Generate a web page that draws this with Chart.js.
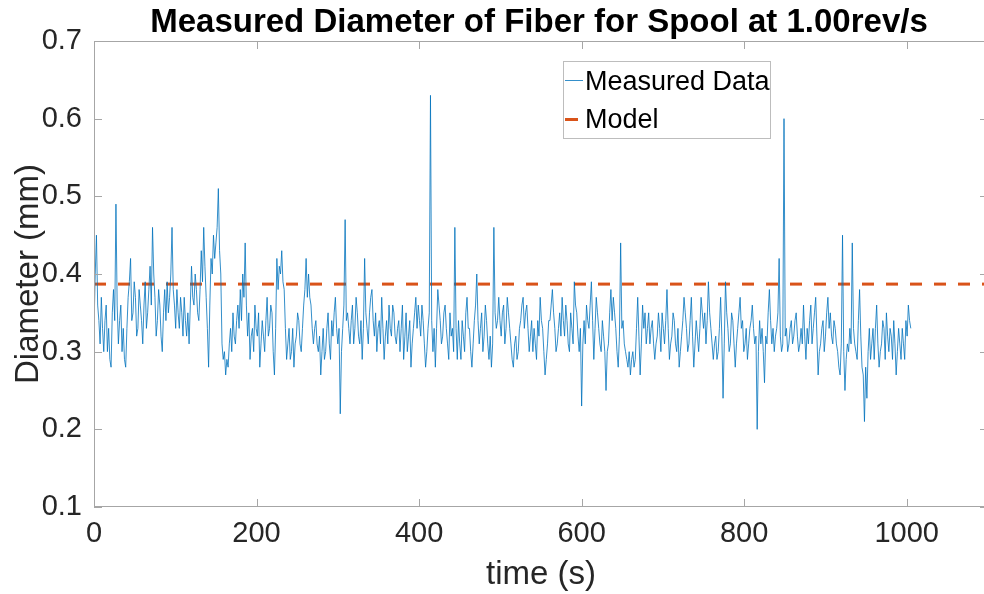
<!DOCTYPE html>
<html>
<head>
<meta charset="utf-8">
<title>Measured Diameter of Fiber</title>
<script src="https://cdn.jsdelivr.net/npm/chart.js@4.4.1/dist/chart.umd.min.js"></script>
<style>
    html, body { margin: 0; padding: 0; background: #fff; overflow: hidden; }
    #wrap { width: 1052px; height: 594px; }
</style>
</head>
<body>
<div id="wrap"><canvas id="fiberChart" width="1052" height="594"></canvas></div>
<script>
// Chart data
const SAMPLE_DT = 3; // seconds between readings in each list

// readings at t = 0, 3, 6, ... s
const diameterOnMark = [
    0.33, 0.45, 0.34, 0.37, 0.30, 0.36, 0.33, 0.28, 0.38, 0.49,
    0.31, 0.36, 0.33, 0.28, 0.37, 0.42, 0.35, 0.37, 0.33, 0.36,
    0.31, 0.39, 0.35, 0.41, 0.46, 0.37, 0.34, 0.36, 0.30, 0.38,
    0.39, 0.37, 0.46, 0.36, 0.38, 0.33, 0.35, 0.37, 0.32, 0.31,
    0.41, 0.36, 0.38, 0.34, 0.43, 0.46, 0.37, 0.28, 0.42, 0.45,
    0.44, 0.51, 0.40, 0.29, 0.27, 0.28, 0.33, 0.35, 0.31, 0.36,
    0.38, 0.40, 0.44, 0.32, 0.29, 0.33, 0.36, 0.32, 0.28, 0.34,
    0.30, 0.37, 0.33, 0.35, 0.27, 0.42, 0.41, 0.43, 0.38, 0.29,
    0.33, 0.30, 0.28, 0.32, 0.34, 0.30, 0.36, 0.42, 0.40, 0.36,
    0.31, 0.34, 0.30, 0.27, 0.33, 0.30, 0.35, 0.29, 0.32, 0.37,
    0.31, 0.22, 0.33, 0.47, 0.35, 0.31, 0.36, 0.33, 0.35, 0.31,
    0.29, 0.42, 0.33, 0.35, 0.38, 0.32, 0.30, 0.34, 0.37, 0.29,
    0.34, 0.36, 0.32, 0.35, 0.31, 0.34, 0.33, 0.29, 0.35, 0.32,
    0.28, 0.33, 0.37, 0.36, 0.32, 0.34, 0.28, 0.33, 0.63, 0.30,
    0.28, 0.38, 0.34, 0.32, 0.36, 0.31, 0.35, 0.33, 0.46, 0.29,
    0.31, 0.34, 0.30, 0.37, 0.33, 0.28, 0.34, 0.40, 0.31, 0.35,
    0.32, 0.34, 0.29, 0.28, 0.46, 0.33, 0.37, 0.32, 0.36, 0.33,
    0.35, 0.31, 0.28, 0.32, 0.30, 0.34, 0.37, 0.35, 0.33, 0.32,
    0.30, 0.31, 0.34, 0.37, 0.33, 0.27, 0.31, 0.34, 0.38, 0.33,
    0.31, 0.35, 0.37, 0.32, 0.34, 0.30, 0.33, 0.39, 0.35, 0.30,
    0.23, 0.34, 0.36, 0.33, 0.39, 0.29, 0.37, 0.33, 0.30, 0.32,
    0.25, 0.31, 0.38, 0.37, 0.33, 0.28, 0.44, 0.34, 0.30, 0.28,
    0.27, 0.30, 0.29, 0.37, 0.27, 0.36, 0.35, 0.33, 0.31, 0.34,
    0.29, 0.32, 0.33, 0.35, 0.31, 0.38, 0.29, 0.32, 0.34, 0.30,
    0.28, 0.32, 0.37, 0.33, 0.31, 0.37, 0.28, 0.34, 0.30, 0.37,
    0.33, 0.31, 0.39, 0.33, 0.29, 0.32, 0.30, 0.37, 0.24, 0.39,
    0.33, 0.31, 0.34, 0.28, 0.33, 0.37, 0.34, 0.31, 0.29, 0.33,
    0.36, 0.31, 0.20, 0.34, 0.33, 0.26, 0.31, 0.38, 0.31, 0.30,
    0.33, 0.42, 0.30, 0.60, 0.33, 0.31, 0.34, 0.32, 0.35, 0.30,
    0.33, 0.36, 0.29, 0.31, 0.36, 0.33, 0.37, 0.27, 0.31, 0.34,
    0.32, 0.37, 0.35, 0.31, 0.33, 0.30, 0.27, 0.45, 0.25, 0.31,
    0.33, 0.44, 0.31, 0.29, 0.38, 0.28, 0.21, 0.24, 0.33, 0.31,
    0.29, 0.36, 0.28, 0.31, 0.33, 0.35, 0.30, 0.32, 0.34, 0.27,
    0.33, 0.29, 0.31, 0.34, 0.36, 0.33
];

// readings half-way between, at t = 1.5, 4.5, 7.5, ... s
const diameterHalfway = [
    0.40, 0.36, 0.31, 0.33, 0.34, 0.30, 0.29, 0.35, 0.34, 0.36,
    0.34, 0.30, 0.29, 0.33, 0.39, 0.34, 0.39, 0.32, 0.38, 0.34,
    0.36, 0.33, 0.38, 0.36, 0.40, 0.32, 0.38, 0.32, 0.35, 0.34,
    0.35, 0.40, 0.38, 0.33, 0.35, 0.37, 0.32, 0.34, 0.35, 0.36,
    0.37, 0.40, 0.35, 0.38, 0.39, 0.41, 0.33, 0.36, 0.40, 0.42,
    0.46, 0.43, 0.31, 0.30, 0.29, 0.31, 0.30, 0.32, 0.34, 0.33,
    0.34, 0.37, 0.36, 0.35, 0.32, 0.30, 0.33, 0.35, 0.31, 0.32,
    0.34, 0.32, 0.36, 0.30, 0.33, 0.38, 0.40, 0.39, 0.33, 0.31,
    0.29, 0.33, 0.31, 0.35, 0.31, 0.33, 0.38, 0.37, 0.37, 0.33,
    0.33, 0.31, 0.32, 0.30, 0.29, 0.33, 0.31, 0.34, 0.35, 0.33,
    0.33, 0.30, 0.36, 0.34, 0.33, 0.34, 0.31, 0.37, 0.32, 0.34,
    0.33, 0.35, 0.31, 0.37, 0.34, 0.35, 0.33, 0.31, 0.33, 0.32,
    0.31, 0.33, 0.36, 0.32, 0.33, 0.30, 0.36, 0.32, 0.30, 0.34,
    0.31, 0.35, 0.33, 0.34, 0.36, 0.31, 0.30, 0.35, 0.34, 0.33,
    0.33, 0.36, 0.31, 0.35, 0.33, 0.29, 0.32, 0.30, 0.33, 0.34,
    0.29, 0.32, 0.35, 0.33, 0.30, 0.31, 0.36, 0.34, 0.33, 0.30,
    0.36, 0.31, 0.32, 0.31, 0.35, 0.34, 0.34, 0.35, 0.31, 0.37,
    0.33, 0.29, 0.31, 0.29, 0.33, 0.36, 0.33, 0.36, 0.30, 0.34,
    0.33, 0.29, 0.32, 0.34, 0.30, 0.29, 0.34, 0.36, 0.35, 0.30,
    0.33, 0.32, 0.34, 0.36, 0.31, 0.35, 0.31, 0.36, 0.32, 0.33,
    0.31, 0.31, 0.34, 0.36, 0.34, 0.33, 0.35, 0.31, 0.34, 0.30,
    0.30, 0.35, 0.34, 0.35, 0.30, 0.32, 0.33, 0.31, 0.29, 0.30,
    0.29, 0.28, 0.33, 0.32, 0.31, 0.33, 0.31, 0.35, 0.33, 0.31,
    0.31, 0.35, 0.30, 0.33, 0.34, 0.33, 0.31, 0.35, 0.31, 0.33,
    0.30, 0.34, 0.35, 0.30, 0.34, 0.32, 0.31, 0.32, 0.33, 0.35,
    0.35, 0.34, 0.35, 0.31, 0.31, 0.29, 0.33, 0.32, 0.31, 0.35,
    0.30, 0.35, 0.31, 0.31, 0.35, 0.33, 0.30, 0.33, 0.31, 0.34,
    0.33, 0.32, 0.30, 0.31, 0.30, 0.32, 0.35, 0.34, 0.33, 0.32,
    0.35, 0.32, 0.31, 0.32, 0.30, 0.33, 0.31, 0.34, 0.32, 0.31,
    0.31, 0.32, 0.33, 0.34, 0.31, 0.35, 0.32, 0.30, 0.33, 0.30,
    0.35, 0.33, 0.32, 0.34, 0.31, 0.28, 0.31, 0.30, 0.29, 0.30,
    0.31, 0.33, 0.30, 0.34, 0.32, 0.27, 0.28, 0.30, 0.29, 0.33,
    0.33, 0.31, 0.30, 0.34, 0.29, 0.32, 0.33, 0.29, 0.31, 0.30,
    0.31, 0.33, 0.29, 0.32, 0.34
];

const modelTimes = [0, 1100];
const modelDiameter = [0.387, 0.387];

const xTicks = [0, 200, 400, 600, 800, 1000];
const yTicks = [0.1, 0.2, 0.3, 0.4, 0.5, 0.6, 0.7];

const chartTitle = 'Measured Diameter of Fiber for Spool at 1.00rev/s';
const seriesNames = ['Measured Data', 'Model'];

const BLUE = '#0072BD';
const ORANGE = '#D95319';
const FONT = "'Liberation Sans', Arial, Helvetica, sans-serif";
const TICK_LEN = 8;

// merge both reading lists into one time-ordered trace
function measuredPoints() {
    const pts = [];
    diameterOnMark.forEach((d, i) => {
        pts.push({ x: i * SAMPLE_DT, y: d });
        if (i < diameterHalfway.length) {
            pts.push({ x: i * SAMPLE_DT + SAMPLE_DT / 2, y: diameterHalfway[i] });
        }
    });
    return pts;
}

// Box around the axes with inward ticks (MATLAB style)
const axesBox = {
    id: 'axesBox',
    afterDatasetsDraw(chart) {
        const { ctx, chartArea: a, scales: { x, y } } = chart;
        ctx.save();
        ctx.strokeStyle = '#a6a6a6';
        ctx.lineWidth = 1;
        ctx.strokeRect(a.left + 0.5, a.top + 0.5, a.right - a.left - 1, a.bottom - a.top - 1);
        ctx.beginPath();
        xTicks.forEach(v => {
            const px = Math.round(x.getPixelForValue(v)) + 0.5;
            ctx.moveTo(px, a.bottom);
            ctx.lineTo(px, a.bottom - TICK_LEN);
            ctx.moveTo(px, a.top);
            ctx.lineTo(px, a.top + TICK_LEN);
        });
        yTicks.forEach(v => {
            const py = Math.round(y.getPixelForValue(v)) + 0.5;
            ctx.moveTo(a.left, py);
            ctx.lineTo(a.left + TICK_LEN, py);
            ctx.moveTo(a.right, py);
            ctx.lineTo(a.right - TICK_LEN, py);
        });
        ctx.stroke();
        ctx.restore();
    }
};

// Title centred over the axes
const axesTitle = {
    id: 'axesTitle',
    afterDraw(chart) {
        const { ctx, chartArea: a } = chart;
        ctx.save();
        ctx.font = 'bold 33px ' + FONT;
        ctx.fillStyle = '#000';
        ctx.textAlign = 'center';
        ctx.textBaseline = 'alphabetic';
        ctx.fillText(chartTitle, (a.left + a.right) / 2 - 2, 32);
        ctx.restore();
    }
};

// Legend box inside the plot, upper middle-right
const insideLegend = {
    id: 'insideLegend',
    afterDraw(chart) {
        const { ctx } = chart;
        const bx = 563, by = 61, bw = 207, bh = 77;
        ctx.save();
        ctx.fillStyle = '#fff';
        ctx.fillRect(bx, by, bw, bh);
        ctx.strokeStyle = '#bdbdbd';
        ctx.lineWidth = 1;
        ctx.strokeRect(bx + 0.5, by + 0.5, bw, bh);

        ctx.beginPath();
        ctx.strokeStyle = BLUE;
        ctx.lineWidth = 0.8;
        ctx.moveTo(565, 80.5);
        ctx.lineTo(583, 80.5);
        ctx.stroke();

        ctx.beginPath();
        ctx.strokeStyle = ORANGE;
        ctx.lineWidth = 3;
        ctx.moveTo(565, 119.5);
        ctx.lineTo(578, 119.5);
        ctx.stroke();

        ctx.font = '27px ' + FONT;
        ctx.fillStyle = '#000';
        ctx.textAlign = 'left';
        ctx.textBaseline = 'middle';
        ctx.fillText(seriesNames[0], 585, 83);
        ctx.fillText(seriesNames[1], 585, 121);
        ctx.restore();
    }
};

document.addEventListener('DOMContentLoaded', function() {
    const canvas = document.getElementById('fiberChart');

    new Chart(canvas, {
        type: 'line',
        data: {
            datasets: [
                {
                    label: seriesNames[0],
                    data: measuredPoints(),
                    borderColor: BLUE,
                    borderWidth: 0.8,
                    pointRadius: 0,
                    tension: 0
                },
                {
                    label: seriesNames[1],
                    data: modelTimes.map((t, i) => ({ x: t, y: modelDiameter[i] })),
                    borderColor: ORANGE,
                    borderWidth: 3,
                    borderDash: [12, 12],
                    pointRadius: 0,
                    tension: 0
                }
            ]
        },
        options: {
            responsive: false,
            animation: false,
            devicePixelRatio: 1,
            layout: { padding: { top: 41, right: 64, bottom: 0, left: 0 } },
            plugins: {
                legend: { display: false },
                title: { display: false },
                tooltip: { enabled: false }
            },
            scales: {
                x: {
                    type: 'linear',
                    min: 0,
                    max: 1100,
                    afterBuildTicks: s => { s.ticks = xTicks.map(v => ({ value: v })); },
                    afterFit: s => { s.height = 87; },
                    grid: { display: false, drawTicks: false },
                    border: { display: false },
                    ticks: {
                        color: '#262626',
                        font: { family: FONT, size: 29 },
                        padding: 10,
                        maxRotation: 0,
                        autoSkip: false,
                        callback: v => String(v)
                    },
                    title: {
                        display: true,
                        text: 'time (s)',
                        color: '#262626',
                        font: { family: FONT, size: 33, lineHeight: 1.15 },
                        padding: { top: 0, bottom: 0 }
                    }
                },
                y: {
                    type: 'linear',
                    min: 0.1,
                    max: 0.7,
                    afterBuildTicks: s => { s.ticks = yTicks.map(v => ({ value: v })); },
                    afterFit: s => { s.width = 94; },
                    grid: { display: false, drawTicks: false },
                    border: { display: false },
                    ticks: {
                        color: '#262626',
                        font: { family: FONT, size: 29 },
                        padding: 12,
                        callback: v => Number(v).toFixed(1)
                    },
                    title: {
                        display: true,
                        text: 'Diameter (mm)',
                        color: '#262626',
                        font: { family: FONT, size: 33, lineHeight: 1.15 },
                        padding: { top: 10, bottom: 0 }
                    }
                }
            }
        },
        plugins: [axesBox, axesTitle, insideLegend]
    });
});
</script>
</body>
</html>
